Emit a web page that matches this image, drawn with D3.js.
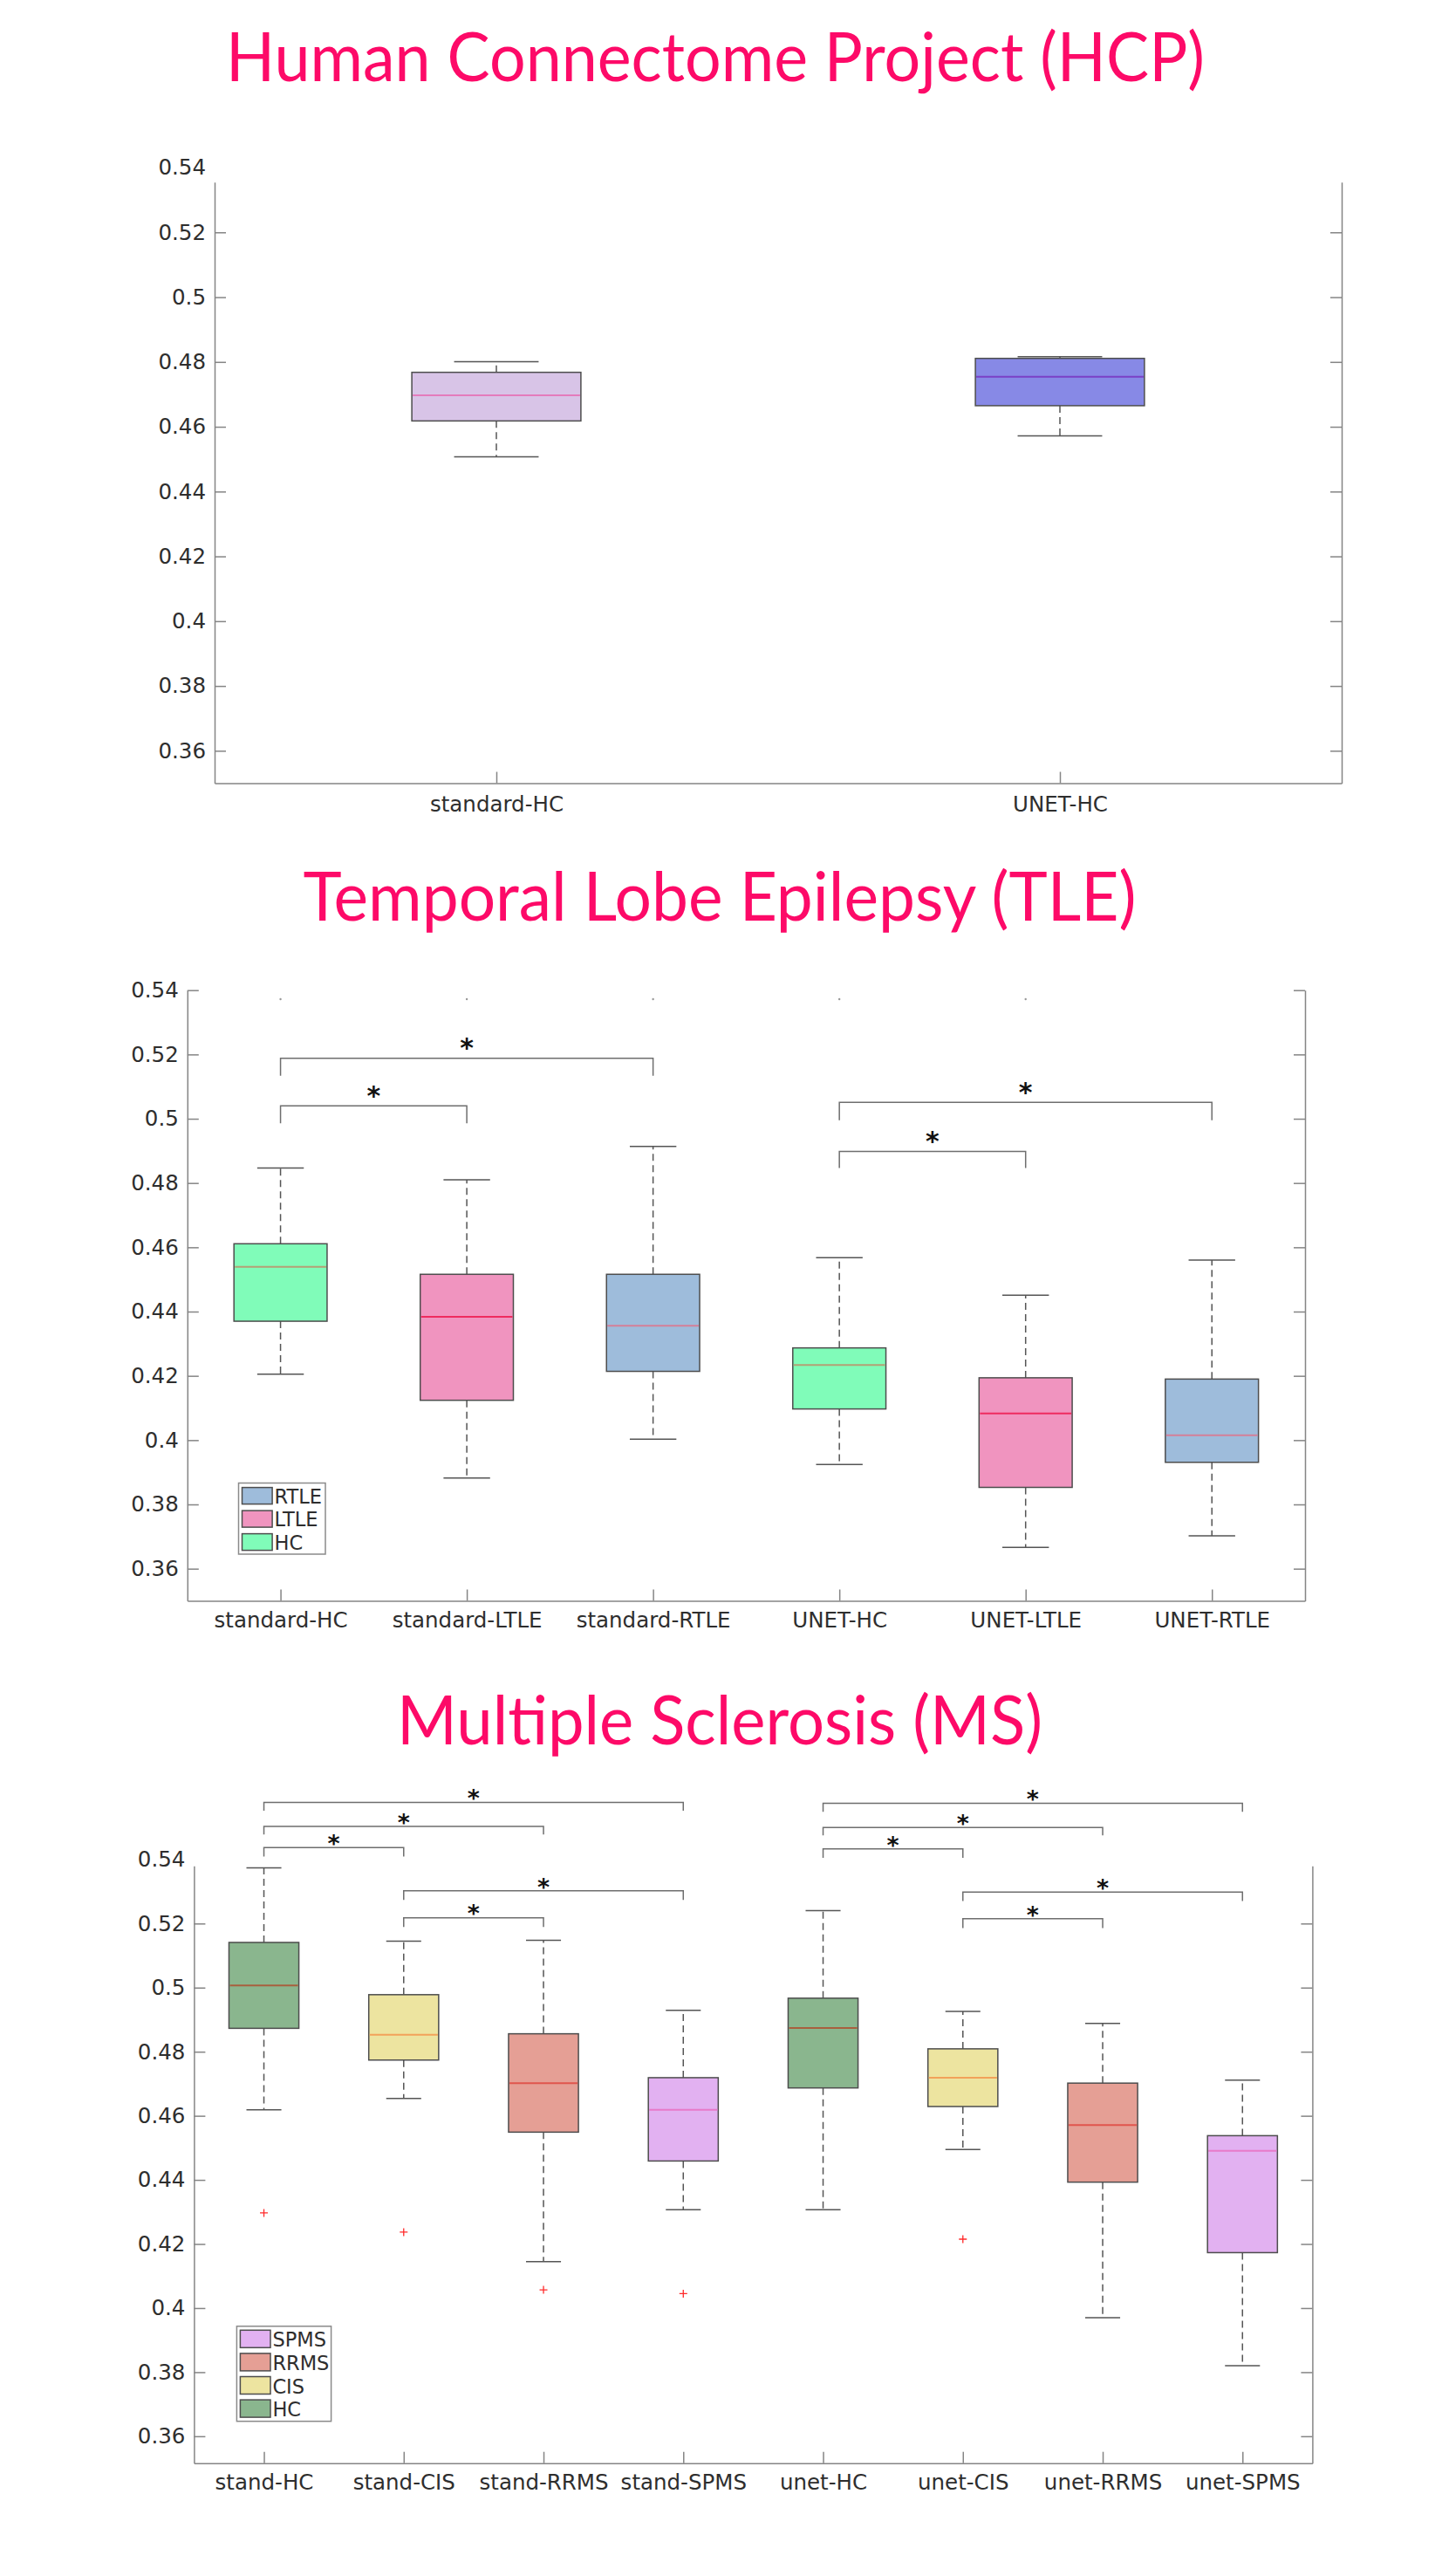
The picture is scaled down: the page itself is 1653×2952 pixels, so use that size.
<!DOCTYPE html>
<html><head><meta charset="utf-8">
<script src="https://cdn.jsdelivr.net/npm/d3@7"></script>
<style>body{margin:0;background:#fff}</style>
</head><body>
<script>
// ---------------- DATA ----------------
const yTickValues = [0.36,0.38,0.40,0.42,0.44,0.46,0.48,0.50,0.52,0.54];

// HCP
const hcpCategories = ["standard-HC","UNET-HC"];
const hcpGroups     = ["stdHC","unetHC"];
const hcpLow    = [0.4507, 0.4572];
const hcpQ1     = [0.4618, 0.4665];
const hcpMedian = [0.4697, 0.4754];
const hcpQ3     = [0.4768, 0.4811];
const hcpHigh   = [0.4801, 0.4816];

// TLE
const tleCategories = ["standard-HC","standard-LTLE","standard-RTLE","UNET-HC","UNET-LTLE","UNET-RTLE"];
const tleGroups     = ["HC","LTLE","RTLE","HC","LTLE","RTLE"];
const tleLow    = [0.4205, 0.3882, 0.4003, 0.3924, 0.3666, 0.3702];
const tleQ1     = [0.4370, 0.4124, 0.4214, 0.4097, 0.3853, 0.3931];
const tleMedian = [0.4539, 0.4384, 0.4356, 0.4234, 0.4083, 0.4015];
const tleQ3     = [0.4611, 0.4516, 0.4516, 0.4287, 0.4194, 0.4190];
const tleHigh   = [0.4847, 0.4810, 0.4914, 0.4568, 0.4451, 0.4560];
// [from, to, bracket level, leg end]
const tleBrackets = [[0,1,0.5040,0.4986],[0,2,0.5188,0.5134],[3,4,0.4898,0.4847],[3,5,0.5051,0.4995]];
const tleDots = [[0,0.5372],[1,0.5372],[2,0.5372],[3,0.5372],[4,0.5372]];
const tleLegend = ["RTLE","LTLE","HC"];

// MS
const msCategories = ["stand-HC","stand-CIS","stand-RRMS","stand-SPMS","unet-HC","unet-CIS","unet-RRMS","unet-SPMS"];
const msGroups     = ["HC","CIS","RRMS","SPMS","HC","CIS","RRMS","SPMS"];
const msLow    = [0.4619, 0.4654, 0.4145, 0.4307, 0.4307, 0.4495, 0.3970, 0.3820];
const msQ1     = [0.4873, 0.4774, 0.4549, 0.4459, 0.4687, 0.4629, 0.4393, 0.4173];
const msMedian = [0.5007, 0.4853, 0.4702, 0.4619, 0.4874, 0.4719, 0.4571, 0.4491];
const msQ3     = [0.5141, 0.4978, 0.4856, 0.4719, 0.4967, 0.4809, 0.4702, 0.4538];
const msHigh   = [0.5374, 0.5145, 0.5148, 0.4929, 0.5240, 0.4926, 0.4888, 0.4711];
const msOutliers = [[0,0.4297],[1,0.4237],[2,0.4057],[3,0.4045],[5,0.4215]];
const msBrackets = [[0,3,0.5578,0.5552],[0,2,0.5503,0.5478],[0,1,0.5437,0.5409],[1,3,0.5302,0.5274],[1,2,0.5218,0.5189],
                    [4,7,0.5575,0.5549],[4,6,0.5500,0.5475],[4,5,0.5433,0.5405],[5,7,0.5298,0.5270],[5,6,0.5215,0.5186]];
const msLegend = ["SPMS","RRMS","CIS","HC"];

// ---------------- STYLES ----------------
const fillColor = {stdHC:"#d8c4e7", unetHC:"#8789e6", HC_tle:"#80fcb9", LTLE:"#f094bf", RTLE:"#9ebcdb",
                   HC:"#8ab68e", CIS:"#ede4a0", RRMS:"#e59f95", SPMS:"#e2b1f1"};
const medColor  = {stdHC:"#e47cbc", unetHC:"#7a40c6", HC_tle:"#b4a076", LTLE:"#ee2b5f", RTLE:"#d47f98",
                   HC:"#a8603e", CIS:"#f2a25a", RRMS:"#e0554d", SPMS:"#e77ac9"};

const W = 1653, H = 2952;
const svg = d3.select("body").append("svg").attr("width",W).attr("height",H)
  .style("font-family","'DejaVu Sans', sans-serif");

const axisColor = "#858585", textColor = "#2e2e2e";
const fmt = d => String(+d.toFixed(2));

function drawPanel(p) {
  const n = p.cats.length;
  const x = d3.scaleLinear().domain([0.5, n + 0.5]).range([p.left, p.right]);
  const y = d3.scaleLinear().domain(p.yDomain).range([p.bottom, p.top]);
  const g = svg.append("g");

  // title
  g.append("text").attr("x", p.titleX).attr("y", p.titleY)
    .attr("text-anchor","middle").attr("textLength", p.titleW).attr("lengthAdjust","spacingAndGlyphs")
    .style("font-family","Lato, 'Open Sans', sans-serif").style("font-size","77px")
    .attr("fill","#fd0a68").text(p.title);

  // boxes
  const bw = p.boxHalf, cw = p.boxHalf / 2;
  p.cats.forEach((c, i) => {
    const cx = x(i + 1);
    const key = p.colorKey(i);
    const bg = g.append("g");
    bg.append("line").attr("x1",cx).attr("x2",cx).attr("y1",y(p.q3[i])).attr("y2",y(p.hi[i]))
      .attr("stroke","#555").attr("stroke-width",1.5).attr("stroke-dasharray","8,5");
    bg.append("line").attr("x1",cx).attr("x2",cx).attr("y1",y(p.q1[i])).attr("y2",y(p.lo[i]))
      .attr("stroke","#555").attr("stroke-width",1.5).attr("stroke-dasharray","8,5");
    [p.hi[i], p.lo[i]].forEach(v => {
      bg.append("line").attr("x1",x(i + 1 - cw)).attr("x2",x(i + 1 + cw)).attr("y1",y(v)).attr("y2",y(v))
        .attr("stroke","#555").attr("stroke-width",1.5);
    });
    bg.append("rect").attr("x",x(i + 1 - bw)).attr("width",x(i + 1 + bw) - x(i + 1 - bw))
      .attr("y",y(p.q3[i])).attr("height",y(p.q1[i]) - y(p.q3[i]))
      .attr("fill",fillColor[key]).attr("stroke","#4d4d4d").attr("stroke-width",1.5);
    bg.append("line").attr("x1",x(i + 1 - bw) + 1).attr("x2",x(i + 1 + bw) - 1)
      .attr("y1",y(p.med[i])).attr("y2",y(p.med[i]))
      .attr("stroke",medColor[key]).attr("stroke-width",2);
  });

  // outliers
  (p.outliers || []).forEach(([i, v]) => {
    const cx = x(i + 1), cy = y(v);
    g.append("path").attr("d",`M${cx-4.5},${cy}H${cx+4.5}M${cx},${cy-4.5}V${cy+4.5}`)
      .attr("stroke","#ff2a2a").attr("stroke-width",1.3).attr("fill","none");
  });
  (p.dots || []).forEach(([i, v]) => {
    g.append("circle").attr("cx",x(i + 1)).attr("cy",y(v)).attr("r",1.2).attr("fill","#999");
  });

  // brackets
  (p.brackets || []).forEach(([a, b, lvl, leg]) => {
    const xa = x(a + 1), xb = x(b + 1), ly = y(lvl), le = y(leg);
    g.append("path").attr("d",`M${xa},${le}V${ly}H${xb}V${le}`)
      .attr("fill","none").attr("stroke","#6e6e6e").attr("stroke-width",1.5);
    g.append("text").attr("x",(xa + xb) / 2).attr("y", ly - p.starGap + 0.585 * p.starSize)
      .attr("text-anchor","middle").style("font-size", p.starSize + "px").style("font-weight","bold")
      .attr("fill","#111").text("*");
  });

  // axes
  const yl = g.append("g").attr("transform",`translate(${p.left},0)`)
    .call(d3.axisLeft(y).tickValues(yTickValues).tickFormat(fmt).tickSizeInner(-13).tickSizeOuter(0).tickPadding(10));
  yl.selectAll(".tick").filter(d => d > p.yDomain[1] + 1e-9).select("line").remove();
  const inTicks = yTickValues.filter(d => d <= p.yDomain[1] + 1e-9);
  const yr = g.append("g").attr("transform",`translate(${p.right},0)`)
    .call(d3.axisRight(y).tickValues(inTicks).tickFormat("").tickSizeInner(-13).tickSizeOuter(0));
  const xb = g.append("g").attr("transform",`translate(0,${p.bottom})`)
    .call(d3.axisBottom(x).tickValues(d3.range(1, n + 1)).tickFormat((d, i) => p.cats[i])
      .tickSizeInner(-13).tickSizeOuter(0).tickPadding(p.labelPad));
  [yl, yr, xb].forEach(a => {
    a.select(".domain").attr("stroke",axisColor).attr("stroke-width",1.5);
    a.selectAll(".tick line").attr("stroke",axisColor).attr("stroke-width",1.5);
    a.selectAll("text").attr("fill",textColor).style("font-size","24.5px").style("font-family","'DejaVu Sans', sans-serif");
  });

  // legend
  if (p.legend) {
    const L = p.legendBox;
    const lg = g.append("g");
    lg.append("rect").attr("x",L.x).attr("y",L.y).attr("width",L.w).attr("height",L.h)
      .attr("fill","#fff").attr("stroke","#8a8a8a").attr("stroke-width",1.5);
    p.legend.forEach((name, k) => {
      const key = p.legendKey(name);
      const top = L.y + L.padTop + k * L.step;
      lg.append("rect").attr("x",L.x + 4).attr("y",top).attr("width",34.6).attr("height",L.ph)
        .attr("fill",fillColor[key]).attr("stroke","#4d4d4d").attr("stroke-width",1.5);
      lg.append("text").attr("x",L.x + 41).attr("y",top + L.ph - 1)
        .attr("fill",textColor).style("font-size","22.5px").text(name);
    });
  }
}

drawPanel({
  title:"Human Connectome Project (HCP)", titleX:820, titleY:93, titleW:1122,
  cats:hcpCategories, lo:hcpLow, q1:hcpQ1, med:hcpMedian, q3:hcpQ3, hi:hcpHigh,
  colorKey: i => hcpGroups[i],
  left:246, right:1538, top:208.7, bottom:897.5, yDomain:[0.35,0.5355],
  boxHalf:0.15, labelPad:15
});

drawPanel({
  title:"Temporal Lobe Epilepsy (TLE)", titleX:825, titleY:1055, titleW:955,
  cats:tleCategories, lo:tleLow, q1:tleQ1, med:tleMedian, q3:tleQ3, hi:tleHigh,
  colorKey: i => tleGroups[i] === "HC" ? "HC_tle" : tleGroups[i],
  brackets: tleBrackets, dots: tleDots, starGap:19, starSize:30,
  left:214.8, right:1496, top:1134.7, bottom:1834.5, yDomain:[0.35,0.54],
  boxHalf:0.25, labelPad:13,
  legend: tleLegend, legendKey: nm => nm === "HC" ? "HC_tle" : nm,
  legendBox:{x:273.5, y:1699.5, w:99.5, h:81.5, padTop:5.1, step:26.5, ph:19}
});

drawPanel({
  title:"Multiple Sclerosis (MS)", titleX:825, titleY:1999, titleW:740,
  cats:msCategories, lo:msLow, q1:msQ1, med:msMedian, q3:msQ3, hi:msHigh,
  colorKey: i => msGroups[i],
  outliers: msOutliers, brackets: msBrackets, starGap:11, starSize:27,
  left:222.4, right:1504.4, top:2138.2, bottom:2822.7, yDomain:[0.3516,0.538],
  boxHalf:0.25, labelPad:13,
  legend: msLegend, legendKey: nm => nm,
  legendBox:{x:271.4, y:2665.8, w:108.2, h:108.9, padTop:4.5, step:26.6, ph:20}
});
</script>
</body></html>
